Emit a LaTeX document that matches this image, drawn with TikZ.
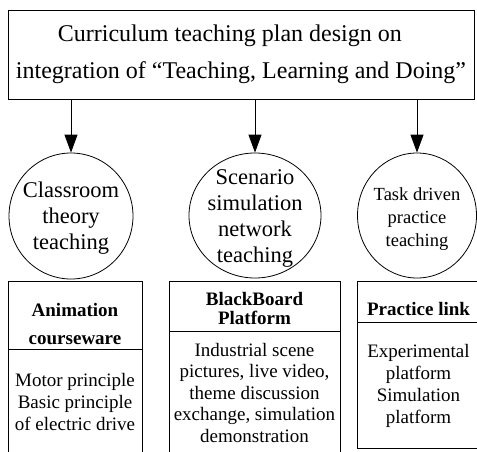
\documentclass[tikz,border=0pt]{standalone}
\usepackage{fontspec}
\setmainfont{Liberation Serif}
\usetikzlibrary{shapes.geometric,arrows.meta}

\tikzset{plan_style/.style={draw, line width=0.8pt, inner sep=0pt, align=left, minimum width=466pt, minimum height=89pt, font=\fontsize{24}{37}\selectfont}}
\tikzset{way_style/.style={ellipse, draw, line width=0.8pt, inner sep=0pt}}
\tikzset{way_text/.style={align=center, inner sep=0pt, font=\fontsize{22.5}{26}\selectfont}}
\tikzset{head_style/.style={draw, line width=0.8pt, inner sep=0pt}}
\tikzset{head_text/.style={align=center, inner sep=0pt, font=\bfseries\fontsize{19}{28}\selectfont}}
\tikzset{body_style/.style={draw, line width=0.8pt, inner sep=0pt, align=center, font=\fontsize{19}{22}\selectfont}}
\tikzset{down_arrow/.style={line width=0.8pt, -{Triangle[length=18pt, width=13pt]}}}

\begin{document}
\begin{tikzpicture}[x=1pt, y=-1pt]
    \useasboundingbox (0,0) rectangle (477,451);

    \node[plan_style] (plan) at (241,54.5) {\hspace*{42pt}Curriculum teaching plan design on\\integration of “Teaching, Learning and Doing”};

    \node[way_style, minimum width=124pt, minimum height=126pt] (classroom) at (71,216) {};
    \node[way_style, minimum width=132pt, minimum height=125pt] (scenario) at (255,215.5) {};
    \node[way_style, minimum width=119pt, minimum height=125pt] (task) at (417,215.5) {};
    \node[way_text] (classroom_text) at (71,218) {Classroom\\theory\\teaching};
    \node[way_text] (scenario_text) at (255,218) {Scenario\\simulation\\network\\teaching};
    \node[way_text, font=\fontsize{18.5}{23}\selectfont] (task_text) at (417,219) {Task driven\\practice\\teaching};

    \draw[down_arrow] (plan.south -| classroom.north) -- (classroom.north);
    \draw[down_arrow] (plan.south -| scenario.north) -- (scenario.north);
    \draw[down_arrow] (plan.south -| task.north) -- (task.north);

    \node[head_style, minimum width=134pt, minimum height=68pt] (anim_head) at (75,315) {};
    \node[head_style, minimum width=171pt, minimum height=50pt] (bb_head) at (254.5,306) {};
    \node[head_style, minimum width=123pt, minimum height=41pt] (prac_head) at (418.5,301.5) {};
    \node[head_text] (anim_title) at (75,324) {Animation\\courseware};
    \node[head_text, font=\bfseries\fontsize{19}{19}\selectfont] (bb_title) at (254.5,308) {BlackBoard\\Platform};
    \node[head_text] (prac_title) at (418.5,309) {Practice link};

    \node[body_style, minimum width=134pt, minimum height=104pt, anchor=north] (anim_body) at (anim_head.south) {Motor principle\\Basic principle\\of electric drive};
    \node[body_style, minimum width=171pt, minimum height=122pt, anchor=north, font=\fontsize{19}{21.5}\selectfont] (bb_body) at (bb_head.south) {Industrial scene\\pictures, live video,\\theme discussion\\exchange, simulation\\demonstration};
    \node[body_style, minimum width=123pt, minimum height=126pt, anchor=north] (prac_body) at (prac_head.south) {Experimental\\platform\\Simulation\\platform};

\end{tikzpicture}
\end{document}
